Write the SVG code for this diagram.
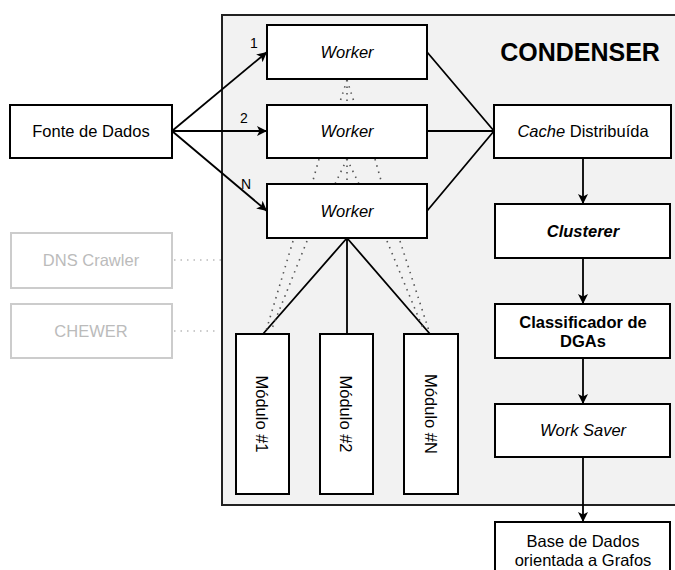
<svg xmlns="http://www.w3.org/2000/svg" width="675" height="570" viewBox="0 0 675 570">
<style>
.box{fill:#fff;stroke:#000;stroke-width:2}
.ghost{fill:#fff;stroke:#cccccc;stroke-width:2}
.t{font-family:"Liberation Sans",Arial,sans-serif;font-size:16.5px;fill:#000;text-anchor:middle}
.gt{font-family:"Liberation Sans",Arial,sans-serif;font-size:16.5px;fill:#bbbbbb;text-anchor:middle}
.lbl{font-family:"Liberation Sans",Arial,sans-serif;font-size:14px;fill:#000;text-anchor:middle}
.ln{fill:none;stroke:#000;stroke-width:1.8}
.dot{fill:none;stroke:#555;stroke-width:1.6;stroke-dasharray:1.5 5}
.dotg{fill:none;stroke:#bbb;stroke-width:1.6;stroke-dasharray:1.5 5}
</style>
<defs>
<marker id="ah" viewBox="0 0 10 10" refX="10" refY="5" markerWidth="10" markerHeight="10" markerUnits="userSpaceOnUse" orient="auto">
<path d="M0,0 L10,5 L0,10 L2.5,5 Z" fill="#000"/>
</marker>
</defs>
<g id="condenser">
<rect x="222" y="15" width="460" height="490" fill="#f2f2f2" stroke="#222" stroke-width="2"/>
<text x="580" y="61" class="t" style="font-weight:bold;font-size:25px">CONDENSER</text>
</g>
<g id="connectors">
<path class="ln" d="M172,131 L267,52" marker-end="url(#ah)"/>
<path class="ln" d="M172,131 L267,131" marker-end="url(#ah)"/>
<path class="ln" d="M172,131 L267,211" marker-end="url(#ah)"/>
<path class="ln" d="M427,52 L494,131 M427,131 L494,131 M427,211 L494,131"/>
<path class="ln" d="M583,158 L583,204" marker-end="url(#ah)"/>
<path class="ln" d="M583,258 L583,304" marker-end="url(#ah)"/>
<path class="ln" d="M583,358 L583,404" marker-end="url(#ah)"/>
<path class="ln" d="M583,457 L583,522" marker-end="url(#ah)"/>
<path class="ln" d="M347,238 L263,334 M347,238 L347,334 M347,238 L430,334"/>
<path class="dot" d="M347,80 L339,105 M347,80 L347,105 M347,80 L355,105"/>
<path class="dot" d="M319,159 L312,184 M347,159 L335,184 M347,159 L347,184 M347,159 L359,184 M375,159 L382,184"/>
<path class="dot" d="M293,241 L266,331 M307,241 L271,331 M387,241 L424,331 M400,241 L429,331"/>
<path class="dotg" d="M174,260 L222,260 M174,331 L218,331"/>
<text x="254" y="48" class="lbl">1</text>
<text x="244" y="123" class="lbl">2</text>
<text x="246" y="189" class="lbl">N</text>
</g>
<g id="fonte">
<rect class="box" x="10" y="105" width="162" height="53"/>
<text x="91" y="137" class="t">Fonte de Dados</text>
</g>
<g id="worker1">
<rect class="box" x="267" y="25" width="160" height="54"/>
<text x="347" y="58" class="t" font-style="italic">Worker</text>
</g>
<g id="worker2">
<rect class="box" x="267" y="105" width="160" height="53"/>
<text x="347" y="137" class="t" font-style="italic">Worker</text>
</g>
<g id="worker3">
<rect class="box" x="267" y="184" width="160" height="54"/>
<text x="347" y="217" class="t" font-style="italic">Worker</text>
</g>
<g id="dnscrawler">
<rect class="ghost" x="11" y="233" width="161" height="55"/>
<text x="91" y="266" class="gt">DNS Crawler</text>
</g>
<g id="chewer">
<rect class="ghost" x="11" y="304" width="161" height="54"/>
<text x="91" y="337" class="gt">CHEWER</text>
</g>
<g id="modulo1">
<rect class="box" x="236" y="334" width="53" height="160"/>
<text class="t" transform="translate(256,414) rotate(90)">Módulo #1</text>
</g>
<g id="modulo2">
<rect class="box" x="320" y="334" width="53" height="160"/>
<text class="t" transform="translate(340,414) rotate(90)">Módulo #2</text>
</g>
<g id="moduloN">
<rect class="box" x="404" y="334" width="54" height="160"/>
<text class="t" transform="translate(425,414) rotate(90)">Módulo #N</text>
</g>
<g id="cache">
<rect class="box" x="494" y="105" width="177" height="53"/>
<text x="583" y="137" class="t"><tspan font-style="italic">Cache</tspan> Distribuída</text>
</g>
<g id="clusterer">
<rect class="box" x="495" y="204" width="175" height="54"/>
<text x="583" y="237" class="t" font-style="italic" font-weight="bold">Clusterer</text>
</g>
<g id="classificador">
<rect class="box" x="495" y="304" width="175" height="54"/>
<text x="583" y="328" class="t" font-weight="bold">Classificador de</text>
<text x="583" y="347" class="t" font-weight="bold">DGAs</text>
</g>
<g id="worksaver">
<rect class="box" x="495" y="404" width="175" height="53"/>
<text x="583" y="436" class="t" font-style="italic">Work Saver</text>
</g>
<g id="basedados">
<rect class="box" x="495" y="522" width="175" height="60"/>
<text x="583" y="547" class="t">Base de Dados</text>
<text x="583" y="566" class="t">orientada a Grafos</text>
</g>
</svg>
